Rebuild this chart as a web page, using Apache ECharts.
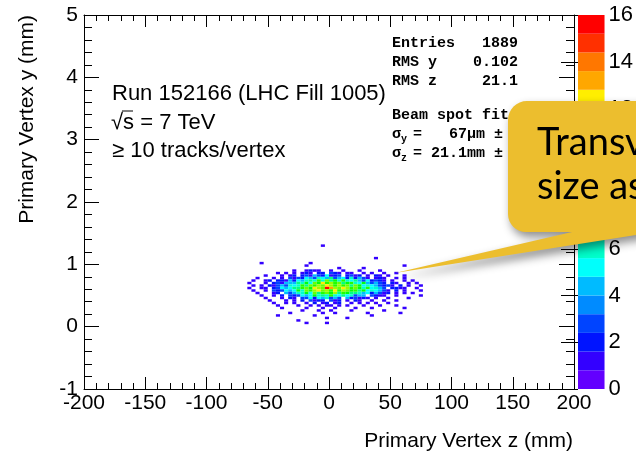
<!DOCTYPE html>
<html><head><meta charset="utf-8">
<script src="https://cdn.jsdelivr.net/npm/echarts@6.0.0/dist/echarts.min.js"></script>
<style>html,body{margin:0;padding:0;background:#fff}#c{width:636px;height:457px}</style>
</head><body><div id="c"></div>
<script>
// ---- axis ranges / ticks ----
const zRange = [-200, 200];
const zTickStep = 50;
const yRange = [-1, 5];
const yTickStep = 1;
const colorRange = [0, 16];
const colorTickStep = 2;

// ---- histogram binning (z: 10/3 mm bins, y: 0.04 mm bins) ----
const zFirstEdge = -66.6667;
const zBinWidth = 3.33333;
const yTopRowLow = 1.32;     // lower edge of the first (top) row
const yBinWidth = 0.04;

// counts per cell, top row first; '.'=0, 1-9, a=10 ... g=16 ; 44 columns, written as 4 groups of 11
const E = "...........";
const cellRows = [
  E + E + E + E,
  E + ".......1..." + E + E,
  E + E + E + E,
  E + E + E + E,
  E + E + E + E,
  E + E + E + E,
  E + E + ".........1." + E,
  E + E + E + E,
  "...1......." + "....1......" + E + E,
  E + "...1......." + E + ".....1.....",
  E + E + "1.....1...." + E,
  E + "1..1211..1." + ".1...1....1" + E,
  ".......1.1." + "1.121.22.32" + "1.11..1.1.." + "1..1.......",
  "....1...1.1" + "2.231432512" + "3.2312.1.21" + ".1...1.....",
  "..1...1.1.3" + "13254365473" + "45262431.12" + "1..1.1.....",
  ".1..12.2214" + "25467696a78" + "69657435232" + "1.1..1.1...",
  "1...1.23144" + "47685a8c9b9" + "a7896584343" + "2.21..1.1..",
  ".1.1.213436" + "5697a9bacb9" + "b9a7a856543" + "231.2.1..1.",
  "1..11.23545" + "779a8cbagdb" + "acb9a869564" + "3.2211..1..",
  ".1..1.32354" + "586a9bcab9c" + "9ba89785654" + "31.2.1...1.",
  "..1...12.43" + "46685a79a8b" + "79877645243" + "12.1.1.1...",
  "...1..1.2.3" + "23545867696" + "5756344.321" + "1..1.....1.",
  "....1...1.2" + "1.335254634" + "3.423121.1." + ".1....1....",
  ".....1...1." + "1.2.3122.31" + "2.1.21..1.." + "1..1.......",
  "......1..1." + "1..1.2.12.1" + "2..1.1.1.1." + ".1.........",
  ".......1..." + ".1..1.1.11." + "1.1...1...1" + "...1.......",
  "........1.." + "...1...1..1" + "....1...1.." + ".....1.....",
  E + "..1...1..1." + "...1......." + "1..........",
  "..........1" + ".......1..1" + ".......1..." + "....1......",
  ".......1..." + ".....1....." + "........1.." + E,
  E + "........1.." + "..1........" + E,
  E + ".1........." + E + E,
  E + "...1....1.." + E + E,
  E + E + E + E
];

// contour levels of the colour palette (20 bands) and their colours
const levels = [0, 0.8, 1.6, 2.4, 3.2, 4.0, 4.8, 5.6, 6.4, 7.2, 8.0, 8.8, 9.6, 10.4, 11.2, 12.0, 12.8, 13.6, 14.4, 15.2, 16];
const palette = ["#6300ff", "#3300ff", "#0014ff", "#0044ff", "#008bff", "#00bbff", "#00fffc", "#00ffcc", "#00ff85", "#00ff55",
                 "#00ff0e", "#22ff00", "#69ff00", "#99ff00", "#e0ff00", "#ffee00", "#ffa700", "#ff7700", "#ff3000", "#ff0000"];

// ---- texts ----
const xTitle = "Primary Vertex z (mm)";
const yTitle = "Primary Vertex y (mm)";
const runLines = ["Run 152166 (LHC Fill 1005)", "\u221As = 7 TeV", "\u2265 10 tracks/vertex"];
const statsLabels = ["Entries", "RMS y", "RMS z"];
const statsValues = ["1889", "0.102", "21.1"];
const fitTitle = "Beam spot fit";
const fitLines = [["\u03C3", "y", "=   67\u03BCm \u00B1"], ["\u03C3", "z", "= 21.1mm \u00B1"]];
const calloutLines = ["Transverse", "size as"];

// ---- build cells ----
function band(n) {
  for (let k = levels.length - 2; k >= 0; k--) if (n >= levels[k]) return k;
  return 0;
}
const cells = [];
cellRows.forEach((row, r) => {
  const yLow = yTopRowLow - r * yBinWidth;
  for (let c = 0; c < row.length; c++) {
    const n = parseInt(row[c], 17);
    if (n > 0) cells.push([zFirstEdge + c * zBinWidth, zFirstEdge + (c + 1) * zBinWidth, yLow, yLow + yBinWidth, n]);
  }
});
const bands = levels.slice(0, -1).map((lo, i) => [0, 1, lo, levels[i + 1], i]);

const F = 'Liberation Sans, Arial, Helvetica, sans-serif';
const M = 'Liberation Mono, Courier New, monospace';
const black = '#000';

function valAxis(o) {
  return Object.assign({
    type: 'value',
    axisLine: { show: true, onZero: false, lineStyle: { color: black, width: 1 } },
    splitLine: { show: false },
    axisLabel: { show: false },
  }, o);
}

// callout outline: rounded box with a pointer
function arc(cx, cy, r, a0, a1, n) {
  const pts = [];
  for (let i = 0; i <= n; i++) {
    const a = (a0 + (a1 - a0) * i / n) * Math.PI / 180;
    pts.push([cx + r * Math.cos(a), cy + r * Math.sin(a)]);
  }
  return pts;
}
const calloutPts = [].concat(
  arc(527, 120, 19, 180, 270, 8),
  [[700, 101], [700, 225], [395, 273], [572, 232]],
  arc(526, 214, 18, 90, 180, 8)
);

const chart = echarts.init(document.getElementById('c'), null, { renderer: 'canvas' });
const tickStyle = { color: black, width: 1 };

chart.setOption({
  animation: false,
  backgroundColor: '#fff',
  grid: [
    { left: 84, top: 15, width: 490, height: 374, show: false },
    { left: 578, top: 15, width: 32, height: 374, show: false }
  ],
  xAxis: [
    valAxis({ gridIndex: 0, position: 'bottom', min: zRange[0], max: zRange[1], interval: zTickStep,
      axisTick: { show: true, inside: true, length: 12, lineStyle: tickStyle },
      minorTick: { show: true, splitNumber: 5, length: 6, lineStyle: tickStyle },
      axisLabel: { show: true, color: black, fontSize: 21, fontFamily: F, margin: 4 } }),
    valAxis({ gridIndex: 0, position: 'top', min: zRange[0], max: zRange[1], interval: zTickStep,
      axisTick: { show: true, inside: true, length: 12, lineStyle: tickStyle },
      minorTick: { show: true, splitNumber: 5, length: 6, lineStyle: tickStyle } }),
    valAxis({ gridIndex: 1, min: 0, max: 1, show: false })
  ],
  yAxis: [
    valAxis({ gridIndex: 0, position: 'left', min: yRange[0], max: yRange[1], interval: yTickStep,
      axisTick: { show: true, inside: true, length: 15, lineStyle: tickStyle },
      minorTick: { show: true, splitNumber: 5, length: 8, lineStyle: tickStyle },
      axisLabel: { show: true, color: black, fontSize: 21, fontFamily: F, margin: 6 } }),
    valAxis({ gridIndex: 0, position: 'right', min: yRange[0], max: yRange[1], interval: yTickStep,
      axisTick: { show: true, inside: true, length: 15, lineStyle: tickStyle },
      minorTick: { show: true, splitNumber: 5, length: 8, lineStyle: tickStyle } }),
    valAxis({ gridIndex: 1, position: 'right', min: colorRange[0], max: colorRange[1], interval: colorTickStep,
      axisLine: { show: false },
      axisTick: { show: true, inside: true, length: 17, lineStyle: tickStyle },
      axisLabel: { show: true, color: black, fontSize: 22, fontFamily: F, margin: 4 } })
  ],
  series: [
    {
      type: 'custom', xAxisIndex: 0, yAxisIndex: 0, clip: true,
      encode: { x: [0, 1], y: [2, 3] },
      data: cells,
      renderItem: function (params, api) {
        const p0 = api.coord([api.value(0), api.value(3)]);
        const p1 = api.coord([api.value(1), api.value(2)]);
        return { type: 'rect', shape: { x: p0[0], y: p0[1], width: p1[0] - p0[0], height: p1[1] - p0[1] },
                 style: { fill: palette[band(api.value(4))] } };
      }
    },
    {
      type: 'custom', xAxisIndex: 2, yAxisIndex: 2,
      encode: { x: [0, 1], y: [2, 3] },
      data: bands,
      renderItem: function (params, api) {
        const p0 = api.coord([api.value(0), api.value(3)]);
        const p1 = api.coord([api.value(1), api.value(2)]);
        return { type: 'rect', shape: { x: p0[0], y: p0[1], width: p1[0] - p0[0], height: p1[1] - p0[1] },
                 style: { fill: palette[api.value(4)] } };
      }
    }
  ],
  graphic: { elements: [
    { type: 'text', x: 27, y: 15, rotation: Math.PI / 2,
      style: { text: yTitle, fontSize: 21, fontFamily: F, fill: black, textAlign: 'right', textVerticalAlign: 'middle' } },
    { type: 'text', x: 573, y: 441,
      style: { text: xTitle, fontSize: 21, fontFamily: F, fill: black, textAlign: 'right', textVerticalAlign: 'middle' } },
    { type: 'text', x: 112, y: 94, style: { text: runLines[0], fontSize: 22, fontFamily: F, fill: black, textAlign: 'left', textVerticalAlign: 'middle' } },
    { type: 'text', x: 111, y: 123, style: { text: runLines[1], fontSize: 22, fontFamily: F, fill: black, textAlign: 'left', textVerticalAlign: 'middle' } },
    { type: 'line', shape: { x1: 122, y1: 111, x2: 133, y2: 111 }, style: { stroke: black, lineWidth: 1 } },
    { type: 'text', x: 112, y: 151, style: { text: runLines[2], fontSize: 22, fontFamily: F, fill: black, textAlign: 'left', textVerticalAlign: 'middle' } },
    ...statsLabels.map((t, i) => ({ type: 'text', x: 392, y: 43 + i * 19.3,
      style: { text: t, font: 'bold 15px ' + M, fill: black, textAlign: 'left', textVerticalAlign: 'middle' } })),
    ...statsValues.map((t, i) => ({ type: 'text', x: 518, y: 43 + i * 19.3,
      style: { text: t, font: 'bold 15px ' + M, fill: black, textAlign: 'right', textVerticalAlign: 'middle' } })),
    { type: 'text', x: 392, y: 115, style: { text: fitTitle, font: 'bold 15px ' + M, fill: black, textAlign: 'left', textVerticalAlign: 'middle' } },
    ...fitLines.flatMap((l, i) => [
      { type: 'text', x: 392, y: 134 + i * 19.5, style: { text: l[0], font: 'bold 15px ' + M, fill: black, textAlign: 'left', textVerticalAlign: 'middle' } },
      { type: 'text', x: 401, y: 139 + i * 19.5, style: { text: l[1], font: 'bold 10px ' + M, fill: black, textAlign: 'left', textVerticalAlign: 'middle' } },
      { type: 'text', x: 413, y: 134 + i * 19.5, style: { text: l[2], font: 'bold 15px ' + M, fill: black, textAlign: 'left', textVerticalAlign: 'middle' } }
    ]),
    { type: 'polygon', z: 100, shape: { points: calloutPts },
      style: { fill: '#ECBE2E', shadowBlur: 10, shadowOffsetX: 3, shadowOffsetY: 5, shadowColor: 'rgba(0,0,0,0.45)' } },
    { type: 'text', z: 101, x: 537, y: 143, style: { text: calloutLines[0], fontSize: 38, fontFamily: 'Lato, sans-serif', fill: black, textAlign: 'left', textVerticalAlign: 'middle' } },
    { type: 'text', z: 101, x: 537, y: 187, style: { text: calloutLines[1], fontSize: 38, fontFamily: 'Lato, sans-serif', fill: black, textAlign: 'left', textVerticalAlign: 'middle' } }
  ] }
});
</script>
</body></html>
